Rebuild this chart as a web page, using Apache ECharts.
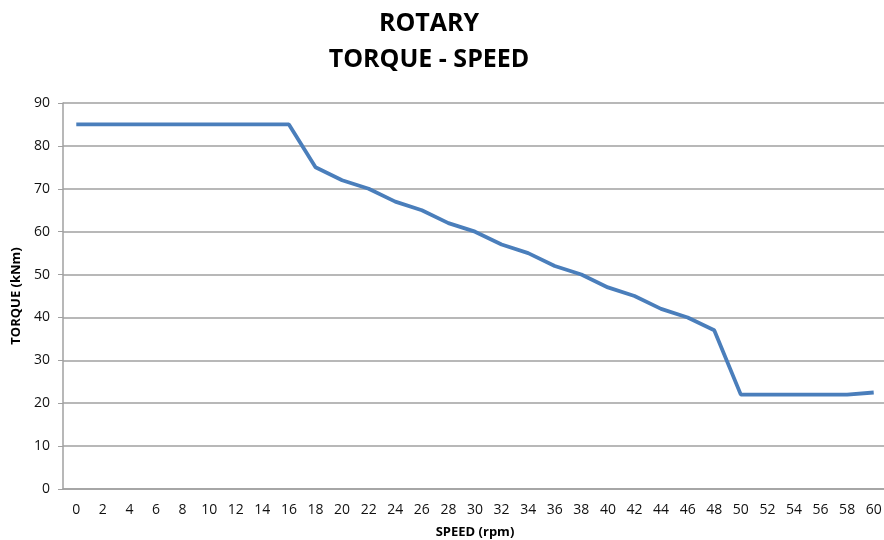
<!DOCTYPE html>
<html>
<head>
<meta charset="utf-8">
<title>Rotary torque - speed</title>
<script src="https://cdn.jsdelivr.net/npm/echarts@6/dist/echarts.min.js"></script>
<style>
  html, body { margin: 0; padding: 0; background: #fff; }
  #chart { width: 884px; height: 540px; }
</style>
</head>
<body>
<div id="chart"></div>
<script>
// speed in rpm (category labels)
var speeds = ['0','2','4','6','8','10','12','14','16','18','20','22','24','26','28','30',
              '32','34','36','38','40','42','44','46','48','50','52','54','56','58','60'];
// torque in kNm
var torque = [85, 85, 85, 85, 85, 85, 85, 85, 85, 75, 72, 70, 67, 65, 62, 60,
              57, 55, 52, 50, 47, 45, 42, 40, 37, 22, 22, 22, 22, 22, 22.5];

var yMin = 0, yMax = 90, yStep = 10;

var font = '"Open Sans", "Liberation Sans", sans-serif';

var chart = echarts.init(document.getElementById('chart'));

chart.setOption({
    animation: false,
    backgroundColor: '#ffffff',
    title: {
        text: 'ROTARY\nTORQUE - SPEED',
        left: 424,
        textAlign: 'center',
        top: 1,
        textStyle: {
            fontFamily: font,
            fontSize: 25,
            fontWeight: 'bold',
            color: '#000',
            lineHeight: 36
        }
    },
    grid: {
        left: 63,
        top: 103,
        width: 824,
        height: 386,
        containLabel: false,
        outerBoundsMode: 'none'
    },
    xAxis: {
        type: 'category',
        data: speeds,
        boundaryGap: true,
        name: 'SPEED (rpm)',
        nameLocation: 'middle',
        nameGap: 37,
        nameTextStyle: { fontFamily: font, fontSize: 13, fontWeight: 'bold', color: '#000' },
        axisLine: { lineStyle: { color: '#a0a0a0', width: 1.5 } },
        axisTick: { show: false },
        axisLabel: { fontFamily: font, fontSize: 14, color: '#111', margin: 14, interval: 0 }
    },
    yAxis: {
        type: 'value',
        min: yMin,
        max: yMax,
        interval: yStep,
        name: 'TORQUE (kNm)',
        nameLocation: 'middle',
        nameRotate: 90,
        nameGap: 38,
        nameTextStyle: { fontFamily: font, fontSize: 13, fontWeight: 'bold', color: '#000' },
        axisLine: { show: true, lineStyle: { color: '#a0a0a0', width: 1.5 } },
        axisTick: { show: true, length: 5, lineStyle: { color: '#a0a0a0' } },
        axisLabel: { fontFamily: font, fontSize: 14, color: '#111', margin: 13 },
        splitLine: { lineStyle: { color: '#a0a0a0', width: 1.5 } }
    },
    series: [{
        type: 'line',
        data: torque,
        showSymbol: false,
        lineStyle: { color: '#4a7ebb', width: 3.8 },
        itemStyle: { color: '#4a7ebb' }
    }]
});
</script>
</body>
</html>
